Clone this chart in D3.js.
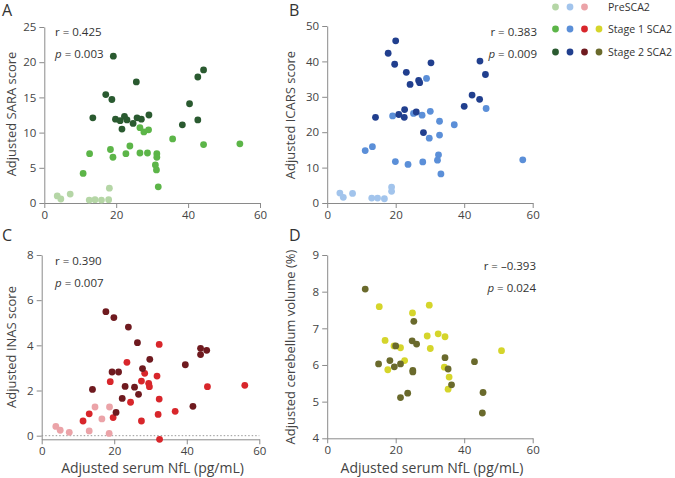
<!DOCTYPE html>
<html>
<head>
<meta charset="utf-8">
<script src="https://cdn.jsdelivr.net/npm/d3@7"></script>
<style>
  body { margin: 0; background: #fff; }
  svg { font-family: "Open Sans", sans-serif; }
  .axis path, .axis line { stroke: #8a8a8a; }
  .axis text { fill: #444; font-size: 11.5px; font-family: "Open Sans", sans-serif; }
</style>
</head>
<body>
<svg id="chart" width="675" height="478"></svg>
<script>
// [adjusted serum NfL, score] per group

// A: SARA
const saraPre = [[3.6,1.0],[4.6,0.57],[7.2,1.27],[12.5,0.42],[14.1,0.47],[15.9,0.42],[17.9,0.47],[18.1,2.1]];
const saraStage1 = [[26.6,10.7],[27.7,10.1],[29.0,10.4],[35.7,9.1],[23.8,8.1],[18.4,7.6],[19.1,6.5],[12.6,7.0],
  [22.7,7.0],[26.6,7.1],[28.7,7.1],[31.3,7.0],[31.3,6.5],[30.9,5.4],[31.2,4.7],[31.7,2.3],[10.8,4.2],[44.3,8.3],[54.4,8.4]];
const saraStage2 = [[19.2,20.85],[25.6,17.2],[17.1,15.4],[18.8,14.7],[13.5,12.1],[19.8,11.9],[21.1,11.7],[22.3,12.3],
  [23.0,11.8],[21.6,10.5],[24.7,11.3],[25.8,12.1],[27.0,11.9],[29.1,12.5],[38.4,11.1],[40.4,14.1],[42.7,17.9],[44.3,18.9],[42.7,11.8]];

// B: ICARS
const icarsPre = [[3.7,2.8],[4.7,1.6],[7.4,2.7],[13.0,1.4],[14.7,1.4],[16.7,1.2],[18.8,4.5],[18.8,3.3]];
const icarsStage1 = [[29.0,35.2],[19.1,24.6],[25.2,25.3],[27.7,24.8],[30.1,25.9],[32.8,23.1],[37.1,22.1],[32.8,19.2],
  [29.8,18.3],[13.2,15.9],[11.1,14.8],[19.9,11.7],[23.6,10.9],[27.9,11.6],[32.5,13.6],[32.2,12.1],[33.2,8.2],[46.4,26.7],[57.1,12.2]];
const icarsStage2 = [[20.0,45.8],[17.8,42.3],[19.7,39.2],[30.3,39.6],[23.1,36.9],[26.7,34.6],[27.0,34.0],[24.2,33.5],
  [44.6,40.1],[46.2,36.3],[42.3,30.5],[44.5,29.3],[40.0,27.3],[22.6,26.4],[20.9,25.0],[22.5,24.2],[26.0,25.7],[14.1,24.2],[28.1,19.9]];

// C: INAS
const inasPre = [[14.7,1.27],[18.7,1.27],[16.6,0.74],[3.9,0.41],[5.1,0.24],[7.6,0.15],[13.1,0.21],[18.6,0.10]];
const inasStage1 = [[32.4,4.04],[23.5,3.25],[28.4,2.76],[27.5,2.42],[18.9,2.39],[29.5,2.32],[29.7,2.17],[31.8,2.64],
  [45.7,2.17],[56.0,2.23],[32.4,1.62],[24.5,1.48],[13.1,0.97],[11.4,0.65],[19.7,0.80],[32.1,0.94],[36.8,1.08],[27.5,0.65],[32.5,-0.16]];
const inasStage2 = [[17.7,5.49],[19.9,5.23],[23.9,4.81],[26.4,4.12],[43.8,3.87],[45.5,3.78],[43.8,3.59],[29.8,3.38],
  [39.6,3.14],[27.8,2.97],[19.4,2.82],[21.2,2.82],[23.0,2.18],[25.6,2.15],[14.0,2.05],[26.7,1.83],[22.2,1.65],[41.7,1.30],[20.5,1.03]];

// D: cerebellum volume
const volStage1 = [[15.2,7.59],[29.8,7.63],[24.9,7.42],[16.9,6.67],[19.5,6.52],[21.4,6.47],[29.2,6.79],[32.4,6.85],
  [34.4,6.77],[30.1,6.45],[22.6,6.12],[17.7,5.87],[34.2,5.94],[35.6,5.67],[35.3,5.34],[50.9,6.39]];
const volStage2 = [[11.1,8.07],[25.3,7.19],[24.8,6.66],[26.1,6.57],[20.0,6.52],[18.3,6.12],[15.0,6.03],[19.6,5.95],
  [21.4,6.03],[25.0,5.85],[25.0,5.81],[34.4,6.2],[35.3,5.89],[36.3,5.46],[43.0,6.09],[45.5,5.25],[45.3,4.69],[23.5,5.23],[21.4,5.11]];

const xTicks = [0, 20, 40, 60];
const legendLabels = ["PreSCA2", "Stage 1 SCA2", "Stage 2 SCA2"];

const col = {
  green: ["#b5d6a6", "#5cb548", "#2a5a30"],
  blue: ["#a2c4ec", "#5b8fd8", "#213f8e"],
  red: ["#eba3a8", "#d8262b", "#6f1a1f"],
  yellow: [null, "#d5d52b", "#6a6a2c"]
};

const svg = d3.select("#chart");

function panel(o) {
  const g = svg.append("g");
  const x = d3.scaleLinear().domain([0, 60]).range(o.xr);
  const y = d3.scaleLinear().domain(o.yd).range(o.yr);

  g.append("g").attr("class", "axis")
    .attr("transform", `translate(0,${o.yr[0]})`)
    .call(d3.axisBottom(x).tickValues(xTicks).tickSize(5).tickPadding(3).tickSizeOuter(0));
  g.append("g").attr("class", "axis")
    .attr("transform", `translate(${o.xr[0]},0)`)
    .call(d3.axisLeft(y).tickValues(o.yt).tickFormat(d3.format("d")).tickSize(5).tickPadding(3).tickSizeOuter(0));

  if (o.zeroLine) {
    g.append("line")
      .attr("x1", x(0)).attr("x2", x(60))
      .attr("y1", y(0)).attr("y2", y(0))
      .attr("stroke", "#999").attr("stroke-width", 1).attr("stroke-dasharray", "1.5,2");
  }

  o.series.forEach((s, i) => {
    if (!s) return;
    g.selectAll(null).data(s).enter().append("circle")
      .attr("cx", d => x(d[0]))
      .attr("cy", d => y(d[1]))
      .attr("r", 3.4)
      .attr("fill", o.colors[i]);
  });

  // panel letter
  svg.append("text").attr("x", o.letter[1]).attr("y", o.letter[2])
    .attr("font-size", 16).attr("fill", "#333").text(o.letter[0]);

  // y label
  svg.append("text")
    .attr("transform", `translate(${o.ylab[1]},${o.ylab[2]}) rotate(-90)`)
    .attr("text-anchor", "middle").attr("dominant-baseline", "central")
    .attr("font-size", 13).attr("fill", "#444").text(o.ylab[0]);

  if (o.xlab) {
    svg.append("text").attr("x", (o.xr[0] + o.xr[1]) / 2 + 2).attr("y", o.xlab)
      .attr("text-anchor", "middle").attr("font-size", 14).attr("fill", "#444")
      .text("Adjusted serum NfL (pg/mL)");
  }

  // stats
  const anchor = o.stats.right ? "end" : "start";
  svg.append("text").attr("x", o.stats.x).attr("y", o.stats.y)
    .attr("text-anchor", anchor).attr("font-size", 11.5).attr("fill", "#333")
    .text("r = " + o.stats.r);
  const p = svg.append("text").attr("x", o.stats.x).attr("y", o.stats.y + 21.5)
    .attr("text-anchor", anchor).attr("font-size", 11.5).attr("fill", "#333");
  p.append("tspan").attr("font-style", "italic").text("p");
  p.append("tspan").text(" = " + o.stats.p);
}

panel({
  xr: [44.3, 260], yd: [0, 25], yr: [203, 27], yt: [0, 5, 10, 15, 20, 25],
  series: [saraPre, saraStage1, saraStage2], colors: col.green,
  letter: ["A", 2, 16], ylab: ["Adjusted SARA score", 11, 114],
  stats: { x: 55, y: 36, r: "0.425", p: "0.003" }
});
panel({
  xr: [327.2, 532.7], yd: [0, 50], yr: [203, 26], yt: [0, 10, 20, 30, 40, 50],
  series: [icarsPre, icarsStage1, icarsStage2], colors: col.blue,
  letter: ["B", 289, 16], ylab: ["Adjusted ICARS score", 290, 115],
  stats: { x: 537, y: 36, r: "0.383", p: "0.009", right: true }
});
panel({
  xr: [41.7, 259.3], yd: [-0.16, 8], yr: [439.3, 255], yt: [0, 2, 4, 6, 8],
  series: [inasPre, inasStage1, inasStage2], colors: col.red, zeroLine: true,
  letter: ["C", 2, 241], ylab: ["Adjusted INAS score", 11, 347], xlab: 473,
  stats: { x: 55, y: 265, r: "0.390", p: "0.007" }
});
panel({
  xr: [327.2, 532.7], yd: [4, 9], yr: [438.3, 255], yt: [4, 5, 6, 7, 8, 9],
  series: [null, volStage1, volStage2], colors: col.yellow,
  letter: ["D", 289, 241], ylab: ["Adjusted cerebellum volume (%)", 290, 347], xlab: 473,
  stats: { x: 536, y: 270, r: "\u20130.393", p: "0.024", right: true }
});

// legend
const legendX = [555.5, 570, 584.5, 599];
const legendY = [7, 29, 52];
const legendCols = [col.green, col.blue, col.red, col.yellow];
legendLabels.forEach((lab, row) => {
  legendCols.forEach((c, k) => {
    if (!c[row]) return;
    svg.append("circle").attr("cx", legendX[k]).attr("cy", legendY[row])
      .attr("r", 3.4).attr("fill", c[row]);
  });
  svg.append("text").attr("x", 608).attr("y", legendY[row])
    .attr("dominant-baseline", "central").attr("font-size", 10.6).attr("fill", "#333")
    .text(lab);
});
</script>
</body>
</html>
